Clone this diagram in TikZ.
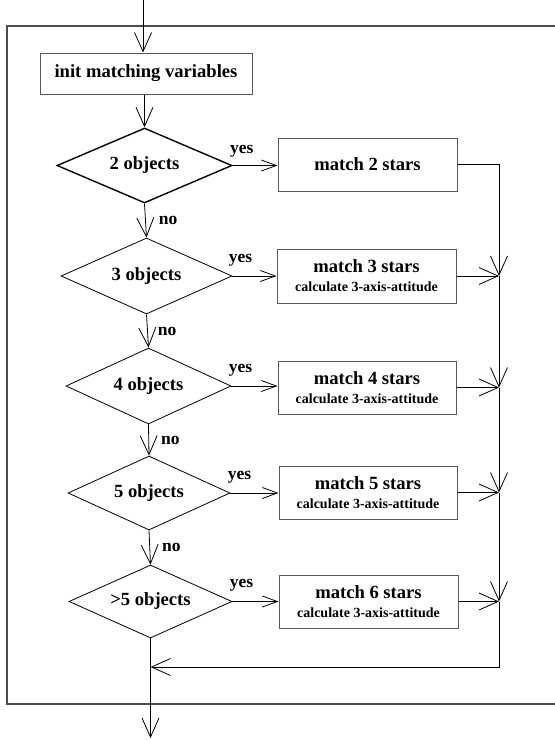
\documentclass[tikz,border=0pt]{standalone}
\usepackage{fontspec}
\setmainfont{Liberation Serif}
\usetikzlibrary{shapes.geometric,arrows.meta}
\begin{document}
\begin{tikzpicture}[x=1pt,y=-1pt,
  bigfont/.style={font=\bfseries\fontsize{18.6}{20}\selectfont},
  box/.style={draw=black!65, line width=1pt, rectangle, inner sep=0pt, align=center, bigfont},
  decide/.style={draw, diamond, aspect=2.3, inner sep=0pt, line width=0.8pt, bigfont},
  conn/.style={line width=0.8pt, -{Straight Barb[length=19pt,width=17pt,line width=0.8pt]}},
  yesarr/.style={line width=0.8pt, -{Straight Barb[length=15pt,width=11pt,line width=0.8pt]}},
  lab/.style={font=\bfseries\fontsize{17.5}{18}\selectfont, inner sep=0pt},
  plain/.style={line width=0.8pt}
]
\useasboundingbox (0,0) rectangle (555,740);
% frame
\draw[black!70, line width=1.2pt] (556,26) -- (7,26) -- (7,704) -- (556,704);
% nodes
\node[box, minimum width=212pt, minimum height=41pt] (init) at (146,73.5) {init matching variables};
\node[decide, line width=1.4pt, minimum width=175pt, minimum height=75pt] (d1) at (144.5,165.5) {2 objects};
\node[decide, minimum width=171pt, minimum height=76pt] (d2) at (146.5,276) {3 objects};
\node[decide, minimum width=165pt, minimum height=76pt] (d3) at (148.5,386) {4 objects};
\node[decide, minimum width=162pt, minimum height=74pt] (d4) at (149,493) {5 objects};
\node[decide, minimum width=163pt, minimum height=73pt] (d5) at (150.5,601.5) {>5 objects};
\node[box, minimum width=179pt, minimum height=53pt] (b1) at (367.5,164.5) {match 2 stars};
\node[box, minimum width=179pt, minimum height=54pt] (b2) at (366.5,276) {match 3 stars\\[-1pt]\fontsize{14}{15}\selectfont calculate 3-axis-attitude};
\node[box, minimum width=178pt, minimum height=53pt] (b3) at (367,387.5) {match 4 stars\\[-1pt]\fontsize{14}{15}\selectfont calculate 3-axis-attitude};
\node[box, minimum width=178pt, minimum height=53pt] (b4) at (368,492.5) {match 5 stars\\[-1pt]\fontsize{14}{15}\selectfont calculate 3-axis-attitude};
\node[box, minimum width=179pt, minimum height=53pt] (b5) at (368.5,601.5) {match 6 stars\\[-1pt]\fontsize{14}{15}\selectfont calculate 3-axis-attitude};
% helper coordinates
\coordinate (top) at (143,0);
\coordinate (rx) at (499,0);
\coordinate (j2) at (b2.east -| rx);
\coordinate (j3) at (b3.east -| rx);
\coordinate (j4) at (b4.east -| rx);
\coordinate (j5) at (b5.east -| rx);
\coordinate (jy) at (0,667);
\coordinate (jr) at (d5.south |- jy);
\coordinate (bottom) at (150.5,738);
% vertical flow
\draw[conn] (top) -- (top |- init.north);
\draw[conn] (d1.north |- init.south) -- (d1.north);
\draw[conn] (d1.south) -- node[lab, anchor=west, xshift=13pt] {no} (d2.north);
\draw[conn] (d2.south) -- node[lab, anchor=west, xshift=10pt] {no} (d3.north);
\draw[conn] (d3.south) -- node[lab, anchor=west, xshift=12pt] {no} (d4.north);
\draw[conn] (d4.south) -- node[lab, anchor=west, xshift=12pt] {no} (d5.north);
% yes branches
\draw[yesarr] (d1.east) -- node[lab, pos=0, anchor=base west, xshift=-3pt, yshift=12pt] {yes} (d1.east -| b1.west);
\draw[yesarr] (d2.east) -- node[lab, pos=0, anchor=base west, xshift=-4pt, yshift=14pt] {yes} (d2.east -| b2.west);
\draw[yesarr] (d3.east) -- node[lab, pos=0, anchor=base west, xshift=-3pt, yshift=14pt] {yes} (d3.east -| b3.west);
\draw[yesarr] (d4.east) -- node[lab, pos=0, anchor=base west, xshift=-3pt, yshift=14pt] {yes} (d4.east -| b4.west);
\draw[yesarr] (d5.east) -- node[lab, pos=0, anchor=base west, xshift=-3pt, yshift=14pt] {yes} (d5.east -| b5.west);
% collecting line on the right
\draw[conn] (b1.east) -| (j2);
\draw[conn] (b2.east) -- (j2);
\draw[conn] (j2) -- (j3);
\draw[conn] (b3.east) -- (j3);
\draw[conn] (j3) -- (j4);
\draw[conn] (b4.east) -- (j4);
\draw[conn] (j4) -- (j5);
\draw[conn] (b5.east) -- (j5);
\draw[conn] (j5) |- (jr);
\draw[conn] (d5.south) -- (bottom);
\end{tikzpicture}
\end{document}
